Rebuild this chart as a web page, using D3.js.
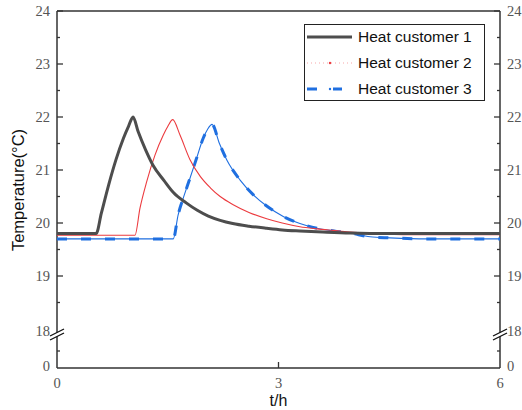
<!DOCTYPE html>
<html>
<head>
<meta charset="utf-8">
<script src="https://cdn.jsdelivr.net/npm/d3@7"></script>
<style>
  body { margin: 0; background: #fff; }
  svg { display: block; }
</style>
</head>
<body>
<script>
// series (t in hours, temperature in °C)
var t1 = [0, 0.53, 0.6, 0.7, 0.8, 0.9, 0.97, 1.03, 1.1, 1.2, 1.3, 1.45, 1.58, 1.75, 1.90, 2.05, 2.21, 2.38, 2.60, 2.84, 3.05, 3.29, 3.60, 3.97, 4.5, 5.0, 6.0];
var v1 = [19.8, 19.8, 20.18, 20.72, 21.2, 21.6, 21.83, 22.0, 21.72, 21.38, 21.09, 20.8, 20.57, 20.38, 20.24, 20.13, 20.05, 19.99, 19.94, 19.9, 19.87, 19.85, 19.83, 19.81, 19.8, 19.8, 19.8];

var t2 = [0, 1.056, 1.124, 1.215, 1.327, 1.44, 1.50, 1.567, 1.666, 1.80, 1.94, 2.08, 2.21, 2.38, 2.60, 2.84, 3.05, 3.29, 3.52, 3.74, 3.97, 4.3, 4.8, 6.0];
var v2 = [19.77, 19.77, 20.28, 20.78, 21.28, 21.66, 21.82, 21.95, 21.66, 21.2, 20.88, 20.66, 20.5, 20.35, 20.2, 20.08, 20.0, 19.93, 19.89, 19.86, 19.83, 19.8, 19.78, 19.78];

var t3 = [0, 1.575, 1.64, 1.71, 1.80, 1.89, 1.98, 2.04, 2.10, 2.20, 2.30, 2.48, 2.66, 2.84, 3.07, 3.29, 3.52, 3.75, 3.97, 4.24, 4.51, 5.0, 6.0];
var v3 = [19.7, 19.7, 20.15, 20.47, 20.84, 21.22, 21.6, 21.77, 21.86, 21.5, 21.19, 20.81, 20.53, 20.32, 20.12, 19.99, 19.9, 19.85, 19.81, 19.74, 19.72, 19.7, 19.7];

var names = ["Heat customer 1", "Heat customer 2", "Heat customer 3"];
var xTicks = [0, 3, 6];
var yTicksUpper = [18, 19, 20, 21, 22, 23, 24];
var yMinorUpper = [18.5, 19.5, 20.5, 21.5, 22.5, 23.5];

var W = 522, H = 410;
var mLeft = 57, mRight = 500, mTop = 11, mBottom = 368;

var svg = d3.select("body").append("svg")
    .attr("width", W)
    .attr("height", H);

var x = d3.scaleLinear().domain([0, 6]).range([mLeft, mRight]);
// broken y axis: 0..18 squeezed at the bottom, 18..24 above
var yUp = d3.scaleLinear().domain([18, 24]).range([329, mTop]);
var yLow = d3.scaleLinear().domain([0, 18]).range([mBottom, 334]);

var axisCol = "#333";
var labCol = "#555";

// frame
svg.append("line").attr("x1", mLeft).attr("x2", mRight).attr("y1", mTop).attr("y2", mTop)
    .attr("stroke", axisCol).attr("stroke-width", 1.3);
svg.append("line").attr("x1", mLeft).attr("x2", mRight).attr("y1", mBottom).attr("y2", mBottom)
    .attr("stroke", axisCol).attr("stroke-width", 1.5);
[mLeft, mRight].forEach(function(px) {
  svg.append("line").attr("x1", px).attr("x2", px).attr("y1", mTop).attr("y2", mBottom)
      .attr("stroke", axisCol).attr("stroke-width", 1.5);
});

// y ticks, both sides, pointing inward
var ticks = svg.append("g").attr("stroke", axisCol).attr("stroke-width", 1.3);
yTicksUpper.slice(1).forEach(function(v) {
  ticks.append("line").attr("x1", mLeft).attr("x2", mLeft + 6).attr("y1", yUp(v)).attr("y2", yUp(v));
  ticks.append("line").attr("x1", mRight - 6).attr("x2", mRight).attr("y1", yUp(v)).attr("y2", yUp(v));
});
yMinorUpper.forEach(function(v) {
  ticks.append("line").attr("x1", mLeft).attr("x2", mLeft + 3).attr("y1", yUp(v)).attr("y2", yUp(v));
  ticks.append("line").attr("x1", mRight - 3).attr("x2", mRight).attr("y1", yUp(v)).attr("y2", yUp(v));
});
ticks.append("line").attr("x1", mLeft).attr("x2", mLeft + 3).attr("y1", yLow(9)).attr("y2", yLow(9));
ticks.append("line").attr("x1", mRight - 3).attr("x2", mRight).attr("y1", yLow(9)).attr("y2", yLow(9));
ticks.append("line").attr("x1", x(3)).attr("x2", x(3)).attr("y1", mBottom).attr("y2", mBottom - 6);

// axis break marks
[mLeft, mRight].forEach(function(px) {
  var g = svg.append("g");
  g.append("polygon")
      .attr("points", [[px - 7, 336], [px + 7, 329], [px + 7, 333], [px - 7, 340]].join(" "))
      .attr("fill", "#fff");
  g.append("line").attr("x1", px - 7).attr("y1", 336).attr("x2", px + 7).attr("y2", 329)
      .attr("stroke", "#111").attr("stroke-width", 1.3);
  g.append("line").attr("x1", px - 7).attr("y1", 340).attr("x2", px + 7).attr("y2", 333)
      .attr("stroke", "#111").attr("stroke-width", 1.3);
});

// tick labels
var serif = "'Liberation Serif', 'DejaVu Serif', serif";
var lab = svg.append("g").attr("font-family", serif).attr("font-size", 14.5).attr("fill", labCol);
yTicksUpper.forEach(function(v) {
  var yy = v === 18 ? yUp(v) + 2 : yUp(v);
  lab.append("text").attr("x", mLeft - 7).attr("y", yy).attr("dy", "0.35em")
      .attr("text-anchor", "end").text(v);
  lab.append("text").attr("x", mRight + 7).attr("y", yy).attr("dy", "0.35em")
      .attr("text-anchor", "start").text(v);
});
lab.append("text").attr("x", mLeft - 7).attr("y", yLow(0)).attr("dy", "0.2em")
    .attr("text-anchor", "end").text("0");
lab.append("text").attr("x", mRight + 7).attr("y", yLow(0)).attr("dy", "0.2em")
    .attr("text-anchor", "start").text("0");
xTicks.forEach(function(v) {
  lab.append("text").attr("x", x(v)).attr("y", 388)
      .attr("text-anchor", "middle").text(v);
});

// axis titles
var sans = "'Liberation Sans', Arial, sans-serif";
svg.append("text").attr("x", x(3)).attr("y", 406)
    .attr("font-family", sans).attr("font-size", 16).attr("fill", "#111")
    .attr("text-anchor", "middle").text("t/h");
svg.append("text")
    .attr("transform", "translate(24," + 190 + ") rotate(-90)")
    .attr("font-family", sans).attr("font-size", 16.5).attr("fill", "#111")
    .attr("text-anchor", "middle").text("Temperature(°C)");

// lines
function series(ts, vs) {
  return ts.map(function(t, i) { return [t, vs[i]]; });
}
var line = d3.line()
    .x(function(d) { return x(d[0]); })
    .y(function(d) { return yUp(d[1]); })
    .curve(d3.curveMonotoneX);

var plot = svg.append("g");
plot.append("path").datum(series(t3, v3)).attr("d", line)
    .attr("fill", "none").attr("stroke", "#1f6fe0").attr("stroke-width", 1.1);
plot.append("path").datum(series(t3, v3)).attr("d", line)
    .attr("fill", "none").attr("stroke", "#1f6fe0").attr("stroke-width", 3)
    .attr("stroke-dasharray", "10,14");
plot.append("path").datum(series(t2, v2)).attr("d", line)
    .attr("fill", "none").attr("stroke", "#ec3b3f").attr("stroke-width", 1.1);
plot.append("path").datum(series(t1, v1)).attr("d", line)
    .attr("fill", "none").attr("stroke", "#4d4d4d").attr("stroke-width", 3);

// legend
var lg = svg.append("g");
lg.append("rect").attr("x", 304.5).attr("y", 24.5).attr("width", 180).attr("height", 76)
    .attr("fill", "#fff").attr("stroke", "#222").attr("stroke-width", 1);
var rowY = [37, 63, 89];
lg.append("line").attr("x1", 307).attr("x2", 352).attr("y1", rowY[0]).attr("y2", rowY[0])
    .attr("stroke", "#4d4d4d").attr("stroke-width", 3);
lg.append("line").attr("x1", 307).attr("x2", 352).attr("y1", rowY[1]).attr("y2", rowY[1])
    .attr("stroke", "#ec3b3f").attr("stroke-opacity", 0.45).attr("stroke-width", 1.2)
    .attr("stroke-dasharray", "1,3");
lg.append("circle").attr("cx", 330).attr("cy", rowY[1]).attr("r", 1.2).attr("fill", "#ec3b3f");
lg.append("line").attr("x1", 307).attr("x2", 342).attr("y1", rowY[2]).attr("y2", rowY[2])
    .attr("stroke", "#1f6fe0").attr("stroke-width", 3)
    .attr("stroke-dasharray", "10,16,10");
lg.append("circle").attr("cx", 330).attr("cy", rowY[2]).attr("r", 1.2).attr("fill", "#1f6fe0");
names.forEach(function(n, i) {
  lg.append("text").attr("x", 358).attr("y", rowY[i]).attr("dy", "0.35em")
      .attr("font-family", sans).attr("font-size", 15.5).attr("fill", "#111").text(n);
});
</script>
</body>
</html>
